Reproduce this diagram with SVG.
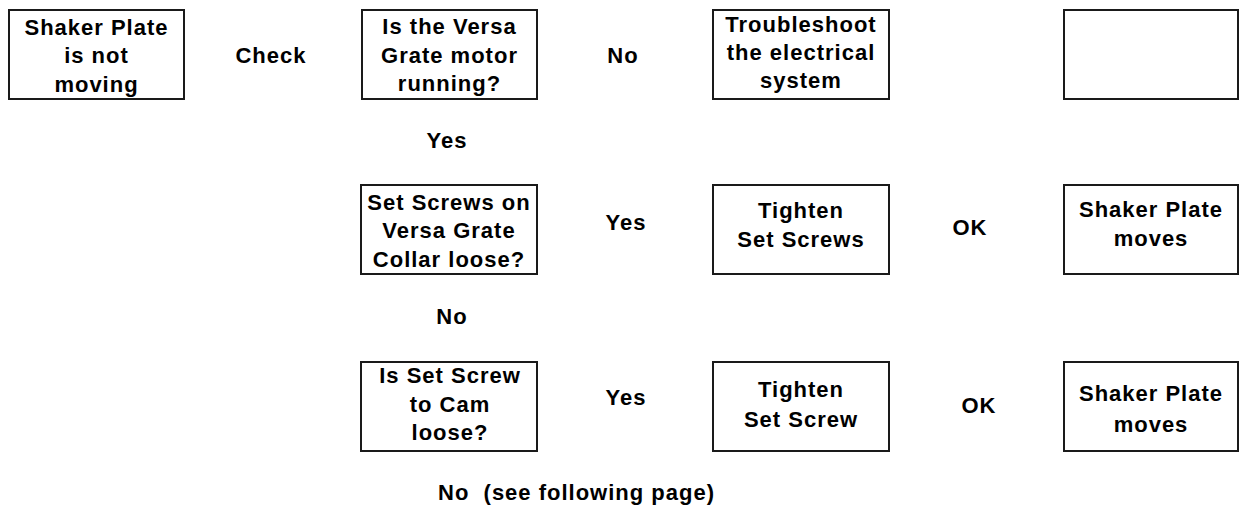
<svg xmlns="http://www.w3.org/2000/svg" width="1239" height="506" viewBox="0 0 1239 506">
<style>
  .box { fill: #ffffff; stroke: #1a1a1a; stroke-width: 2; }
  text { font-family: "Liberation Sans", Arial, sans-serif; font-weight: bold; font-size: 22px; letter-spacing: 1px; fill: #000000; }
  .c { text-anchor: middle; }
</style>
<rect x="0" y="0" width="1239" height="506" fill="#ffffff"/>
<g id="connectors">
  <text id="lbl-check" class="c" x="271" y="63">Check</text>
  <text id="lbl-no1" class="c" x="623" y="63">No</text>
  <text id="lbl-yes1" class="c" x="447" y="148">Yes</text>
  <text id="lbl-yes2" class="c" x="626" y="230">Yes</text>
  <text id="lbl-ok1" class="c" x="970" y="235">OK</text>
  <text id="lbl-no2" class="c" x="452" y="324">No</text>
  <text id="lbl-yes3" class="c" x="626" y="405">Yes</text>
  <text id="lbl-ok2" class="c" x="979" y="413">OK</text>
  <text id="lbl-no3" x="438" y="500" xml:space="preserve">No  (see following page)</text>
</g>
<g id="n1">
  <rect class="box" x="9" y="10" width="175" height="89"/>
  <text class="c" x="96.5" y="34.5">Shaker Plate</text>
  <text class="c" x="96.5" y="63">is not</text>
  <text class="c" x="96.5" y="91.5">moving</text>
</g>
<g id="n2">
  <rect class="box" x="362" y="10" width="175" height="89"/>
  <text class="c" x="449.5" y="33.5">Is the Versa</text>
  <text class="c" x="449.5" y="63">Grate motor</text>
  <text class="c" x="449.5" y="91">running?</text>
</g>
<g id="n3">
  <rect class="box" x="713" y="10" width="176" height="89"/>
  <text class="c" x="801" y="32">Troubleshoot</text>
  <text class="c" x="801" y="60">the electrical</text>
  <text class="c" x="801" y="88">system</text>
</g>
<g id="n4">
  <rect class="box" x="1064" y="10" width="174" height="89"/>
</g>
<g id="n5">
  <rect class="box" x="361" y="185" width="176" height="89"/>
  <text class="c" x="449" y="210">Set Screws on</text>
  <text class="c" x="449" y="238">Versa Grate</text>
  <text class="c" x="449" y="267">Collar loose?</text>
</g>
<g id="n6">
  <rect class="box" x="713" y="185" width="176" height="89"/>
  <text class="c" x="801" y="218">Tighten</text>
  <text class="c" x="801" y="247">Set Screws</text>
</g>
<g id="n7">
  <rect class="box" x="1064" y="185" width="174" height="89"/>
  <text class="c" x="1151" y="217">Shaker Plate</text>
  <text class="c" x="1151" y="246">moves</text>
</g>
<g id="n8">
  <rect class="box" x="361" y="362" width="176" height="89"/>
  <text class="c" x="450" y="383">Is Set Screw</text>
  <text class="c" x="450" y="412">to Cam</text>
  <text class="c" x="450" y="440">loose?</text>
</g>
<g id="n9">
  <rect class="box" x="713" y="362" width="176" height="89"/>
  <text class="c" x="801" y="397">Tighten</text>
  <text class="c" x="801" y="427">Set Screw</text>
</g>
<g id="n10">
  <rect class="box" x="1064" y="362" width="174" height="89"/>
  <text class="c" x="1151" y="401">Shaker Plate</text>
  <text class="c" x="1151" y="432">moves</text>
</g>
</svg>
